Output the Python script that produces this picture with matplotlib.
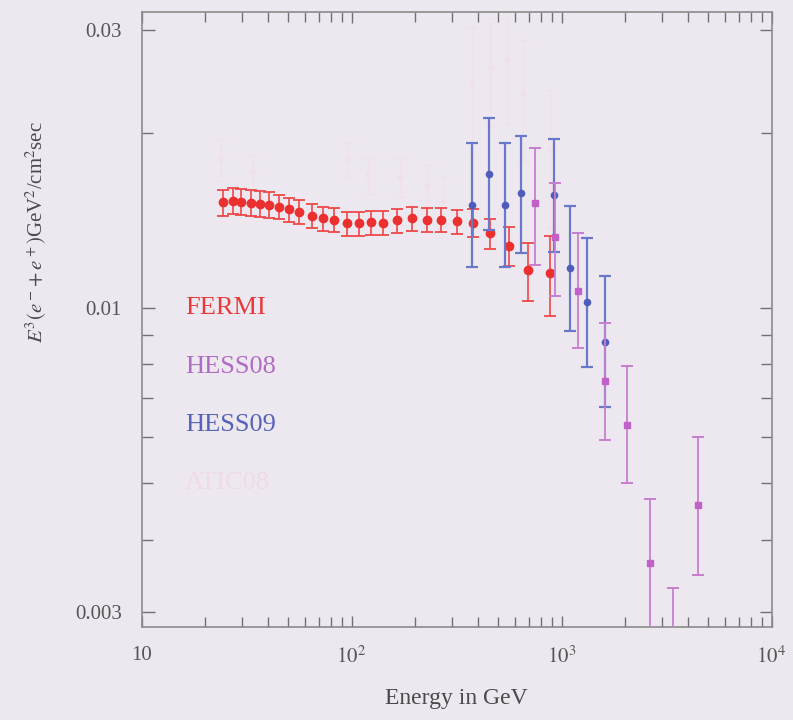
import numpy as np
import matplotlib
matplotlib.use('Agg')
import matplotlib.pyplot as plt
from matplotlib.ticker import FixedLocator, FixedFormatter, NullFormatter

plt.rcParams['font.family'] = ['Liberation Serif', 'DejaVu Serif']
plt.rcParams['mathtext.fontset'] = 'stix'

# E^3 x flux of electrons+positrons, GeV^2/cm^2/sec
fermi_E = [24.5, 27.3, 29.9, 33.1, 36.5, 40.4, 45.3, 50.4, 56.4, 64.7, 73, 82.6, 95,
           108, 124, 142, 165, 194, 228, 268, 319, 379, 458, 561, 690, 881]
fermi_flux = [0.01519, 0.01527, 0.01521, 0.01516, 0.01510, 0.01504, 0.01491, 0.01477,
              0.01462, 0.01439, 0.01426, 0.01416, 0.01398, 0.01398, 0.01403, 0.01402,
              0.01415, 0.01426, 0.01416, 0.01416, 0.01409, 0.01402, 0.01344, 0.01278,
              0.01162, 0.01150]
fermi_err = [0.00078, 0.00078, 0.00078, 0.00078, 0.00078, 0.00077, 0.00071, 0.00070,
             0.00069, 0.00068, 0.00068, 0.00067, 0.00066, 0.00066, 0.00067, 0.00067,
             0.00067, 0.00068, 0.00067, 0.00067, 0.00067, 0.00078, 0.00080, 0.00098,
             0.00134, 0.00182]

hess09_E = [374, 450, 536, 644, 923, 1096, 1318, 1607]
hess09_flux = [0.01503, 0.01697, 0.01503, 0.01574, 0.01564, 0.01170, 0.01025, 0.00875]
hess09_lo = [0.01175, 0.01361, 0.01178, 0.01242, 0.01249, 0.00913, 0.00793, 0.00675]
hess09_hi = [0.01923, 0.02123, 0.01923, 0.01975, 0.01950, 0.01497, 0.01321, 0.01136]

hess08_E = [747, 932, 1201, 1607, 2043, 2634, 3388, 4478]
hess08_flux = [0.01513, 0.01326, 0.01071, 0.00749, 0.00630, 0.00364, 0.00250, 0.00459]
hess08_lo = [0.01186, 0.01050, 0.00853, 0.00593, 0.00500, 0.00240, 0.00180, 0.00348]
hess08_hi = [0.01883, 0.01642, 0.01344, 0.00941, 0.00796, 0.00470, 0.00330, 0.00601]

atic_E = [24, 34, 95, 120, 170, 229, 273, 373, 457, 548, 656, 881]
atic_flux = [0.0180, 0.0171, 0.0180, 0.0169, 0.0168, 0.0162, 0.0153, 0.0244, 0.0260,
             0.0267, 0.0234, 0.0187]
atic_err = [0.0015, 0.0012, 0.0012, 0.0012, 0.0013, 0.0014, 0.0015, 0.0060, 0.0055,
            0.0060, 0.0055, 0.0050]

bg = '#ede8ef'
fig = plt.figure(figsize=(7.93, 7.2), dpi=100, facecolor=bg)
ax = fig.add_axes([141.5/793, 1 - 627/720, 630/793, 615/720], facecolor=bg)
ax.set_xscale('log')
ax.set_yscale('log')

def asym(v, lo, hi):
    v, lo, hi = np.array(v), np.array(lo), np.array(hi)
    return [v - lo, hi - v]

# ATIC, faded out
ax.errorbar(atic_E, atic_flux, yerr=atic_err, fmt='o', ms=3.5, color='#f0e1e9',
            ecolor='#f0e1e9', elinewidth=1.0, capsize=4, zorder=1)

# FERMI
l, caps, bars = ax.errorbar(fermi_E, fermi_flux, yerr=fermi_err, fmt='o', ms=6,
                            color='#ec2f2f', ecolor='#f04848', elinewidth=1.2,
                            capsize=4.3, capthick=1.3, zorder=3)

# HESS09
l, caps, bars = ax.errorbar(hess09_E, hess09_flux,
                            yerr=asym(hess09_flux, hess09_lo, hess09_hi),
                            fmt='o', ms=4.5, color='#4f5cbc', ecolor='#6a78cc',
                            elinewidth=1.6, capsize=4.3, capthick=1.6, zorder=4)
for c in caps:
    c.set_color('#3c4274')

# HESS08
l, caps, bars = ax.errorbar(hess08_E, hess08_flux,
                            yerr=asym(hess08_flux, hess08_lo, hess08_hi),
                            fmt='s', ms=4.5, color='#c060c8', ecolor='#c77ed0',
                            elinewidth=1.3, capsize=4.3, capthick=1.4, zorder=5)
for c in caps:
    c.set_color('#7d5a88')

ax.set_xlim(10, 1e4)
ax.set_ylim(0.002831, 0.03226)

ax.xaxis.set_major_locator(FixedLocator([10, 100, 1000, 10000]))
ax.xaxis.set_major_formatter(FixedFormatter(['10', '$10^2$', '$10^3$', '$10^4$']))
ax.xaxis.set_minor_locator(FixedLocator([m * d for d in [10, 100, 1000] for m in range(2, 10)]))
ax.xaxis.set_minor_formatter(NullFormatter())

ax.yaxis.set_major_locator(FixedLocator([0.003, 0.01, 0.03]))
ax.yaxis.set_major_formatter(FixedFormatter(['0.003', '0.01', '0.03']))
ax.yaxis.set_minor_locator(FixedLocator([0.004, 0.005, 0.006, 0.007, 0.008, 0.009, 0.02]))
ax.yaxis.set_minor_formatter(NullFormatter())

tick_col = '#707070'
ax.tick_params(which='both', direction='in', top=True, right=True,
               color=tick_col, width=1.0, labelcolor='#555555', labelsize=15)
ax.tick_params(axis='x', which='major', length=8, pad=14)
ax.tick_params(axis='x', which='minor', length=7)
ax.tick_params(axis='y', which='major', length=9, pad=14)
ax.tick_params(axis='y', which='minor', length=8)
for s in ax.spines.values():
    s.set_color('#8c8c8c')
    s.set_linewidth(1.2)

ax.set_xlabel('Energy in GeV', fontsize=17, color='#4a4a4a', labelpad=14)
fig.text(36/793, 1 - 232/720, r'$E^3(e^-\!+e^+)$GeV$^2$/cm$^2$sec', rotation=90,
         ha='center', va='center', fontsize=15, color='#4a4a4a')

# experiment names
ax.text(16.1, 0.0100, 'FERMI', color='#e83a3a', fontsize=19, va='center')
ax.text(16.1, 0.00793, 'HESS08', color='#b06cc4', fontsize=19, va='center')
ax.text(16.1, 0.0063, 'HESS09', color='#5563b8', fontsize=19, va='center')
ax.text(16.1, 0.0050, 'ATIC08', color='#efdbe4', fontsize=19, va='center')

fig.savefig('out.png', dpi=100, facecolor=bg)
